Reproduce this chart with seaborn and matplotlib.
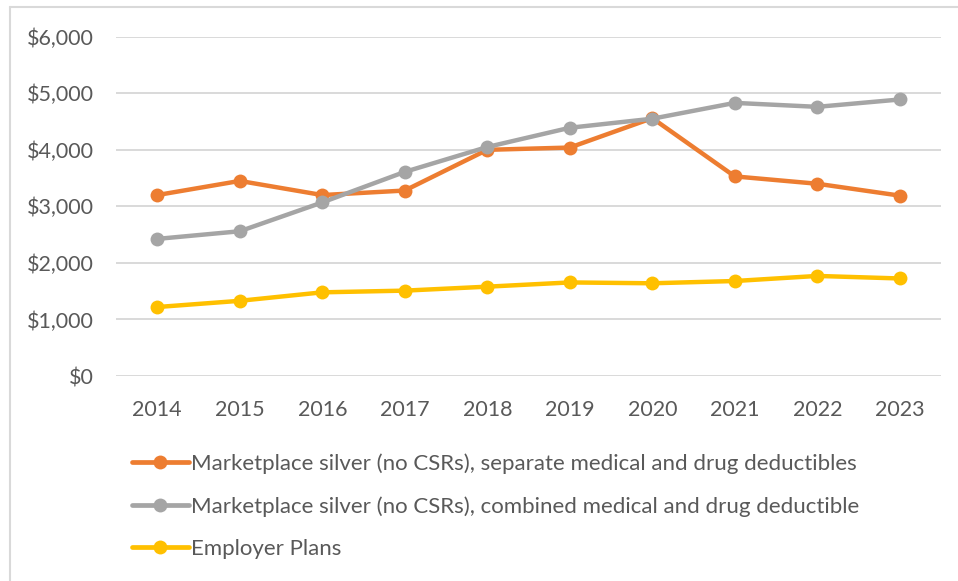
import matplotlib
matplotlib.use("Agg")
import matplotlib.pyplot as plt
from matplotlib.lines import Line2D
from matplotlib.ticker import FuncFormatter
import pandas as pd
import seaborn as sns

years = [2014, 2015, 2016, 2017, 2018, 2019, 2020, 2021, 2022, 2023]
separate_deductibles = [3200, 3450, 3200, 3280, 4000, 4040, 4560, 3530, 3400, 3190]
combined_deductible = [2425, 2560, 3070, 3610, 4050, 4390, 4550, 4830, 4760, 4890]
employer_plans = [1220, 1330, 1480, 1510, 1580, 1655, 1640, 1680, 1770, 1725]

series_names = [
    "Marketplace silver (no CSRs), separate medical and drug deductibles",
    "Marketplace silver (no CSRs), combined medical and drug deductible",
    "Employer Plans",
]
series_colors = ["#ED7D31", "#A5A5A5", "#FFC000"]

frames = []
for name, vals in zip(series_names, [separate_deductibles, combined_deductible, employer_plans]):
    frames.append(pd.DataFrame({"year": [str(y) for y in years], "value": vals, "series": name}))
df = pd.concat(frames, ignore_index=True)

sns.set_theme(style="white")
plt.rcParams["font.family"] = ["Lato", "DejaVu Sans"]
text_color = "#595959"

fig = plt.figure(figsize=(9.58, 5.81), dpi=100)
ax = fig.add_axes([0.1211, 0.3528, 0.8612, 0.5840])

sns.lineplot(
    data=df, x="year", y="value", hue="series", palette=series_colors,
    hue_order=series_names, marker="o", markersize=10, markeredgewidth=0,
    linewidth=3.2, sort=False, legend=False, ax=ax,
)

ax.set_xlim(-0.5, len(years) - 0.5)
ax.set_ylim(0, 6000)
ax.set_yticks(range(0, 6001, 1000))
ax.yaxis.set_major_formatter(FuncFormatter(lambda v, _: f"${v:,.0f}"))
ax.set_xlabel("")
ax.set_ylabel("")
for s in ax.spines.values():
    s.set_visible(False)
ax.grid(axis="y", color="#D9D9D9", linewidth=1.4)
ax.grid(axis="x", visible=False)
ax.set_axisbelow(True)
ax.tick_params(axis="both", length=0, labelsize=15.5, labelcolor=text_color)
ax.tick_params(axis="y", pad=16)
ax.tick_params(axis="x", pad=17)

handles = [
    Line2D([0], [0], color=c, lw=3.4, marker="o", markersize=10, markeredgewidth=0)
    for c in series_colors
]
leg = fig.legend(
    handles, series_names, loc="upper left", bbox_to_anchor=(0.117, 0.254),
    frameon=False, fontsize=16, handlelength=2.55, handletextpad=0.1,
    labelspacing=1.0, labelcolor=text_color,
)

# outer chart frame (top and left edges)
fig.add_artist(Line2D([10 / 958, 10 / 958], [0, 1 - 7 / 581], transform=fig.transFigure,
                      color="#D9D9D9", lw=1.5))
fig.add_artist(Line2D([10 / 958, 1], [1 - 7 / 581, 1 - 7 / 581], transform=fig.transFigure,
                      color="#D9D9D9", lw=1.5))

fig.savefig("out.png", dpi=100)
